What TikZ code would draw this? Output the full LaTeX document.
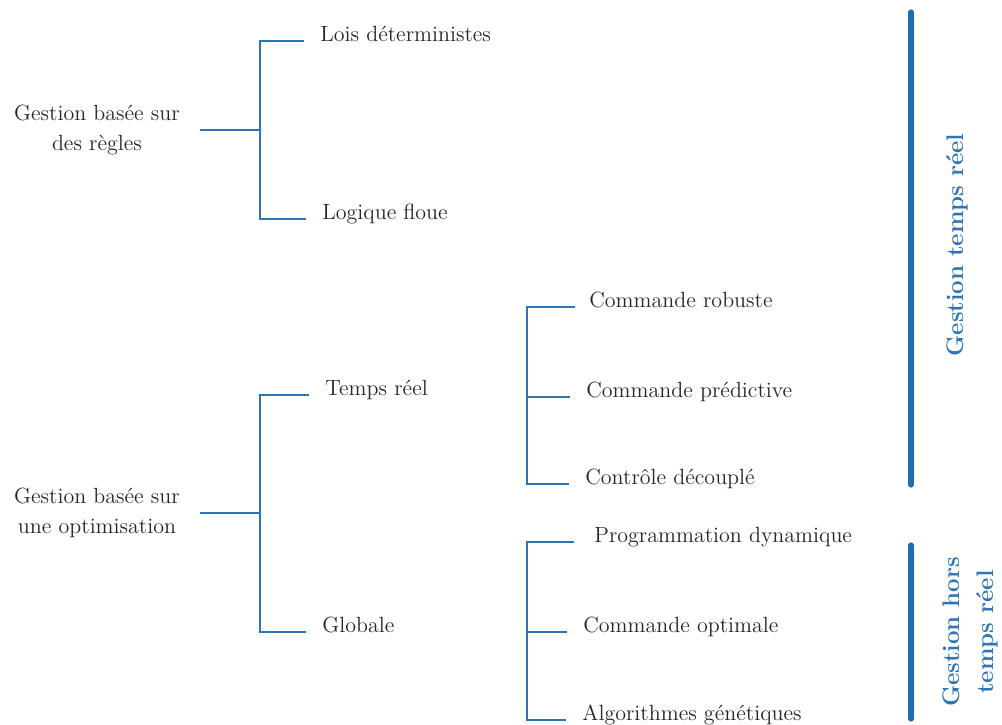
\documentclass[tikz,border=0pt]{standalone}
\usepackage{tikz}
\definecolor{lblue}{RGB}{46,117,182}
\definecolor{bblue}{RGB}{30,108,178}
\definecolor{tgray}{RGB}{38,38,38}
\tikzset{
  root/.style={align=center,inner sep=0pt,text=tgray,font=\fontsize{11}{15}\selectfont},
  leaf/.style={anchor=base west,inner sep=0pt,text=tgray},
  br/.style={draw=lblue,semithick},
  stub/.style={draw=lblue,semithick,shorten >=8pt},
  bar/.style={draw=bblue,line width=2.6pt,line cap=round},
  blab/.style={rotate=90,align=center,text=lblue,font=\fontsize{12}{17}\selectfont\bfseries},
}

\begin{document}
\begin{tikzpicture}[x=0.5pt,y=-0.5pt,every node/.style={font=\fontsize{11}{15}\selectfont}]
\useasboundingbox (0,0) rectangle (1002,724);
\node[root] (regles) at (97,130) {Gestion basée sur\\des règles};
\node[root] (optim) at (97,513) {Gestion basée sur\\une optimisation};
\node[leaf] (lois) at (320,41) {Lois déterministes};
\node[leaf] (floue) at (322,219) {Logique floue};
\node[leaf] (treel) at (325,395) {Temps réel};
\node[leaf] (glob) at (322,632) {Globale};
\node[leaf] (crob) at (589,307) {Commande robuste};
\node[leaf] (cpred) at (586,397) {Commande prédictive};
\node[leaf] (cdec) at (585,484) {Contrôle découplé};
\node[leaf] (pdyn) at (594,542) {Programmation dynamique};
\node[leaf] (copt) at (583,632) {Commande optimale};
\node[leaf] (agen) at (582,720) {Algorithmes génétiques};
\coordinate (b1) at (260,130);
\coordinate (b2) at (260,513);
\coordinate (b3) at (527,397);
\coordinate (b4) at (527,632);
\draw[br,shorten <=10pt] (regles) -- (b1);
\draw[br,shorten <=10pt] (optim) -- (b2);
\draw[stub,shorten <=8pt] (lois.base west) -| (b1) |- (floue.base west);
\draw[stub,shorten <=8pt] (treel.base west) -| (b2) |- (glob.base west);
\draw[stub,shorten <=7pt] (crob.base west) -| (b3) |- (cdec.base west);
\draw[stub] (b3) -- (cpred.base west);
\draw[stub,shorten <=10pt] (pdyn.base west) -| (b4) |- (agen.base west);
\draw[stub] (b4) -- (copt.base west);
% bandeaux a droite
\coordinate (bar1t) at (911,12);
\coordinate (bar1b) at (911,485);
\coordinate (bar2t) at (911,545);
\coordinate (bar2b) at (911,719);
\draw[bar] (bar1t) -- (bar1b);
\draw[bar] (bar2t) -- (bar2b);
\node[blab] (gtr) at (957,245) {Gestion temps réel};
\node[blab] (ghtr) at (970,632) {Gestion hors\\temps réel};
\end{tikzpicture}
\end{document}
